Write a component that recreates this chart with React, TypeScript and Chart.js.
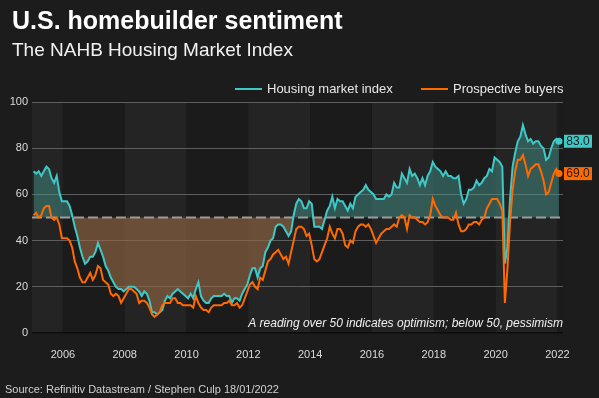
import { useEffect, useRef } from "react";
import { Chart, registerables } from "chart.js";

Chart.register(...registerables);

// ---- data ----
const startYear = 2005;
const yearTicks = [2006, 2008, 2010, 2012, 2014, 2016, 2018, 2020, 2022];
const yTicks = [0, 20, 40, 60, 80, 100];
const neutralLevel = 50;
const seriesNames = ["Housing market index", "Prospective buyers"];
const titleText = "U.S. homebuilder sentiment";
const subtitleText = "The NAHB Housing Market Index";
const noteText = "A reading over 50 indicates optimism; below 50, pessimism";
const sourceText = "Source: Refinitiv Datastream / Stephen Culp 18/01/2022";

// monthly, Jan 2005 .. Jan 2022
const housingIndex = [
  70, 69, 70, 68, 70, 72, 71, 67, 65, 68, 61, 57,
  57, 57, 55, 51, 46, 42, 37, 33, 30, 31, 33, 33,
  35, 39, 36, 33, 29, 27, 24, 22, 20, 19, 19, 18,
  19, 20, 20, 20, 19, 18, 16, 18, 17, 14, 9, 9,
  8, 9, 10, 14, 16, 15, 17, 18, 19, 18, 17, 16,
  15, 17, 15, 19, 22, 16, 14, 13, 13, 15, 16, 16,
  16, 16, 17, 16, 16, 13, 15, 15, 14, 17, 19, 21,
  25, 28, 28, 24, 28, 29, 35, 37, 40, 41, 46, 47,
  47, 46, 44, 42, 44, 51, 56, 58, 57, 54, 54, 57,
  56, 46, 46, 46, 45, 49, 53, 55, 59, 54, 58, 57,
  57, 55, 53, 56, 54, 59, 60, 61, 62, 64, 62, 61,
  60, 58, 58, 58, 58, 60, 59, 60, 65, 63, 63, 69,
  67, 65, 71, 68, 69, 67, 64, 67, 64, 68, 70, 74,
  72, 71, 70, 68, 70, 68, 68, 67, 67, 68, 60, 56,
  58, 62, 62, 63, 66, 64, 65, 67, 68, 71, 70, 76,
  75, 74, 72, 30, 37, 58, 72, 78, 83, 85, 90, 86,
  83, 84, 82, 83, 83, 81, 80, 75, 76, 80, 83, 84,
  83,
];

const prospectiveBuyers = [
  51, 52, 50, 51, 54, 55, 55, 50, 49, 50, 47, 41,
  41, 41, 40, 37, 31, 28, 24, 22, 22, 24, 26, 23,
  25, 29, 28, 23, 22, 21, 17, 16, 17, 16, 13, 15,
  17, 19, 19, 18, 17, 13, 14, 14, 13, 11, 8, 7,
  8, 9, 12, 13, 13, 13, 15, 15, 13, 13, 12, 12,
  12, 12, 11, 16, 13, 11, 10, 10, 9, 11, 12, 12,
  12, 12, 13, 13, 14, 12, 12, 13, 11, 12, 15, 18,
  21, 22, 20, 19, 24, 23, 27, 31, 32, 34, 35, 36,
  34, 32, 33, 30, 35, 40, 45, 46, 46, 45, 42, 43,
  38, 32, 31, 32, 35, 38, 41, 46, 43, 41, 45, 45,
  43, 38, 37, 40, 39, 44, 46, 47, 47, 46, 47, 45,
  42, 39, 41, 43, 44, 45, 45, 46, 47, 46, 50, 51,
  50, 45, 51, 50, 50, 49, 48, 48, 47, 48, 51, 58,
  55, 53, 51, 50, 50, 50, 49, 49, 52, 47, 44, 44,
  45, 47, 47, 48, 48, 47, 49, 50, 54, 56, 58, 58,
  58, 56, 53, 13, 28, 48, 62, 70, 75, 75, 77, 73,
  68, 71, 72, 73, 73, 70, 66, 60, 61, 65, 69, 71,
  69,
];

// ---- styles ----
const BG = "#1c1c1c";
const BAND_LIGHT = "#242424";
const BAND_DARK = "#1b1b1b";
const CYAN = "#3ec9c6";
const ORANGE = "#ff6a00";
const FONT = "'Liberation Sans', Arial, Helvetica, sans-serif";

const toX = (i: number) => startYear + (i + 0.6) / 12;

const decorPlugin = {
  id: "decor",
  beforeDraw(chart: any) {
    const { ctx, chartArea, scales } = chart;
    const xs = scales.x;
    ctx.save();
    ctx.fillStyle = BG;
    ctx.fillRect(0, 0, chart.width, chart.height);
    for (let y = 2004; y <= 2022; y += 2) {
      const x0 = Math.max(xs.getPixelForValue(y), chartArea.left);
      const x1 = Math.min(xs.getPixelForValue(y + 2), chartArea.right);
      if (x1 <= x0) continue;
      ctx.fillStyle = ((y - 2004) / 2) % 2 === 0 ? BAND_LIGHT : BAND_DARK;
      ctx.fillRect(x0, chartArea.top, x1 - x0, chartArea.bottom - chartArea.top);
    }
    // titles
    ctx.textBaseline = "alphabetic";
    ctx.textAlign = "left";
    ctx.fillStyle = "#ffffff";
    ctx.font = `bold 25px ${FONT}`;
    ctx.fillText(titleText, 12, 29);
    ctx.fillStyle = "#f2f2f2";
    ctx.font = `19px ${FONT}`;
    ctx.fillText(subtitleText, 12, 56);
    // legend
    const legend = [
      { name: seriesNames[0], color: CYAN, x: 235 },
      { name: seriesNames[1], color: ORANGE, x: 421 },
    ];
    ctx.font = `13px ${FONT}`;
    ctx.textBaseline = "middle";
    legend.forEach((l) => {
      ctx.strokeStyle = l.color;
      ctx.lineWidth = 2;
      ctx.beginPath();
      ctx.moveTo(l.x, 89);
      ctx.lineTo(l.x + 27, 89);
      ctx.stroke();
      ctx.fillStyle = "#e8e8e8";
      ctx.fillText(l.name, l.x + 32, 89.5);
    });
    // source
    ctx.font = `11px ${FONT}`;
    ctx.fillStyle = "#d0d0d0";
    ctx.textBaseline = "middle";
    ctx.fillText(sourceText, 5, 390);
    ctx.restore();
  },
  beforeDatasetsDraw(chart: any) {
    const { ctx, chartArea, scales } = chart;
    const y = scales.y.getPixelForValue(neutralLevel);
    ctx.save();
    ctx.strokeStyle = "#9c9c9c";
    ctx.lineWidth = 2;
    ctx.setLineDash([10, 4]);
    ctx.beginPath();
    ctx.moveTo(chartArea.left, y);
    ctx.lineTo(chartArea.right, y);
    ctx.stroke();
    ctx.restore();
  },
  afterDatasetsDraw(chart: any) {
    const { ctx, chartArea, scales } = chart;
    ctx.save();
    const labels = [
      { v: housingIndex[housingIndex.length - 1], color: CYAN },
      { v: prospectiveBuyers[prospectiveBuyers.length - 1], color: ORANGE },
    ];
    ctx.font = `12px ${FONT}`;
    ctx.textAlign = "center";
    ctx.textBaseline = "middle";
    labels.forEach((l) => {
      const y = scales.y.getPixelForValue(l.v);
      const x = chartArea.right + 1;
      ctx.fillStyle = l.color;
      ctx.fillRect(x, y - 6.5, 28, 13);
      ctx.fillStyle = "#1c1c1c";
      ctx.fillText(l.v.toFixed(1), x + 14, y + 0.5);
    });
    ctx.font = `italic 12px ${FONT}`;
    ctx.textAlign = "right";
    ctx.fillStyle = "#f0f0f0";
    ctx.fillText(noteText, chartArea.right, 324);
    ctx.restore();
  },
};

export default function App() {
  const ref = useRef<HTMLCanvasElement>(null);
  useEffect(() => {
    const canvas = ref.current!;
    const lastB = prospectiveBuyers.length - 1;
    const lastH = housingIndex.length - 1;
    const chart = new Chart(canvas, {
      type: "line",
      data: {
        datasets: [
          {
            label: seriesNames[1],
            data: prospectiveBuyers.map((v, i) => ({ x: toX(i), y: v })),
            borderColor: ORANGE,
            backgroundColor: ORANGE,
            borderWidth: 2,
            pointRadius: (c: any) => (c.dataIndex === lastB ? 3.5 : 0),
            pointBorderWidth: 0,
            pointBackgroundColor: ORANGE,
            tension: 0,
            fill: false,
            order: 1,
          },
          {
            label: seriesNames[0],
            data: housingIndex.map((v, i) => ({ x: toX(i), y: v })),
            borderColor: CYAN,
            backgroundColor: CYAN,
            borderWidth: 2,
            pointRadius: (c: any) => (c.dataIndex === lastH ? 3.5 : 0),
            pointBorderWidth: 0,
            pointBackgroundColor: CYAN,
            tension: 0,
            fill: {
              target: { value: neutralLevel },
              above: "rgba(72,150,142,0.48)",
              below: "rgba(150,105,68,0.62)",
            },
            order: 2,
          },
        ],
      },
      options: {
        animation: false,
        responsive: false,
        maintainAspectRatio: false,
        events: [],
        layout: { padding: { left: 0, right: 36, top: 102, bottom: 0 } },
        plugins: {
          legend: { display: false },
          tooltip: { enabled: false },
          filler: { drawTime: "beforeDatasetsDraw" },
        } as any,
        scales: {
          x: {
            type: "linear",
            min: 2005,
            max: 2022.18,
            grid: { display: false },
            border: { display: false },
            afterBuildTicks: (s: any) => {
              s.ticks = yearTicks.map((v) => ({ value: v }));
            },
            afterFit: (s: any) => {
              s.height = 65;
            },
            ticks: {
              color: "#dcdcdc",
              font: { size: 11, family: FONT },
              padding: 7,
              maxRotation: 0,
              autoSkip: false,
              callback: (v: any) => String(v),
            },
          },
          y: {
            min: 0,
            max: 100,
            afterBuildTicks: (s: any) => {
              s.ticks = yTicks.map((v) => ({ value: v }));
            },
            afterFit: (s: any) => {
              s.width = 32;
            },
            grid: {
              color: (c: any) => (c.tick && c.tick.value === 0 ? "#0c0c0c" : "#5e5e5e"),
              lineWidth: (c: any) => (c.tick && c.tick.value === 0 ? 1.5 : 1),
              drawTicks: false,
            },
            border: { display: false },
            ticks: {
              padding: 4,
              color: "#dcdcdc",
              font: { size: 11, family: FONT },
            },
          },
        },
      } as any,
      plugins: [decorPlugin],
    });
    return () => chart.destroy();
  }, []);
  return (
    <div style={{ position: "fixed", left: 0, top: 0, width: 599, height: 398, background: BG }}>
      <canvas ref={ref} width={599} height={398} style={{ display: "block", width: 599, height: 398 }} />
    </div>
  );
}
